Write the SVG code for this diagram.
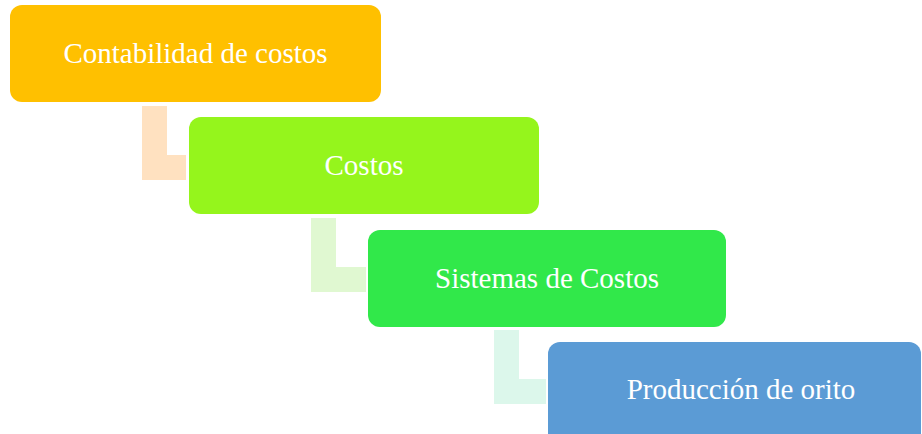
<svg xmlns="http://www.w3.org/2000/svg" width="922" height="434" viewBox="0 0 922 434">
<style>
.lbl{font-family:"Liberation Serif","Times New Roman",serif;font-size:29px;fill:#ffffff;text-anchor:middle}
</style>
<rect width="922" height="434" fill="#ffffff"/>
<g id="connectors">
<path d="M142 106H167V155H186V180H142Z" fill="#FFE1C0"/>
<path d="M311 218H336V267H366V292H311Z" fill="#E0F8D1"/>
<path d="M494 330H519V379H546V404H494Z" fill="#DCF7EB"/>
</g>
<g id="node1">
<rect x="10" y="5" width="371" height="97" rx="12" fill="#FFC000"/>
<text class="lbl" x="195.5" y="63">Contabilidad de costos</text>
</g>
<g id="node2">
<rect x="189" y="117" width="350" height="97" rx="12" fill="#95F51C"/>
<text class="lbl" x="364" y="175">Costos</text>
</g>
<g id="node3">
<rect x="368" y="230" width="358" height="97" rx="12" fill="#31E84A"/>
<text class="lbl" x="547" y="288">Sistemas de Costos</text>
</g>
<g id="node4">
<rect x="548" y="342" width="373" height="110" rx="12" fill="#5B9BD5"/>
<text class="lbl" x="741" y="399">Producción de orito</text>
</g>
</svg>
